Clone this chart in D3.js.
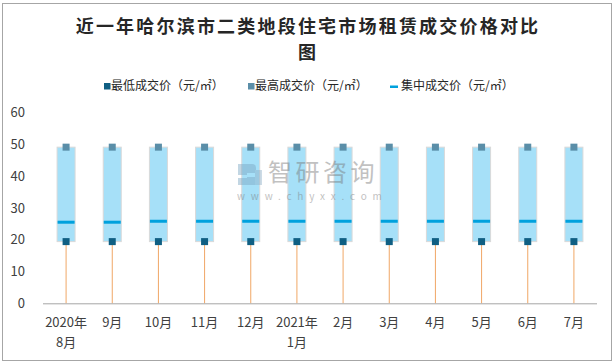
<!DOCTYPE html>
<html><head><meta charset="utf-8">
<script src="https://cdn.jsdelivr.net/npm/d3@7"></script>
<style>body{margin:0;background:#fff}svg{display:block}</style>
</head><body>
<svg id="c" width="615" height="364"></svg>
<script>
const categories = ["2020年\n8月","9月","10月","11月","12月","2021年\n1月","2月","3月","4月","5月","6月","7月"];
const lowValues  = [19.4,19.4,19.4,19.4,19.4,19.4,19.4,19.4,19.4,19.4,19.4,19.4];
const highValues = [49.1,49.1,49.1,49.1,49.1,49.1,49.1,49.1,49.1,49.1,49.1,49.1];
const midValues  = [25.5,25.5,25.8,25.8,25.8,25.8,25.8,25.8,25.8,25.8,25.8,25.8];
const yTicks = [0,10,20,30,40,50,60];
const seriesNames = ["最低成交价（元/㎡）","最高成交价（元/㎡）","集中成交价（元/㎡）"];
const titleLines = ["近一年哈尔滨市二类地段住宅市场租赁成交价格对比","图"];

const FONT = '"Microsoft YaHei","Noto Sans CJK SC","Noto Sans",sans-serif';
const svg = d3.select("#c");
svg.append("rect").attr("x",2.5).attr("y",3.5).attr("width",609).attr("height",357)
  .attr("fill","#fff").attr("stroke","#a6a6a6");

// title
svg.append("g").selectAll("text").data(titleLines).join("text")
  .attr("x",308).attr("y",(d,i)=>27+i*26).attr("dy","0.36em")
  .attr("text-anchor","middle").attr("font-family",'"Noto Sans CJK SC",serif')
  .attr("font-weight",700).attr("font-size",18).attr("letter-spacing",2.2)
  .attr("fill","#262626").text(d=>d);

const x = d3.scaleBand().domain(categories).range([43,597]).paddingInner(0.61).paddingOuter(0.305);
const y = d3.scaleLinear().domain([0,60]).range([303.3,112.5]);

// y axis
const ya = svg.append("g").attr("transform","translate(43,0)")
  .call(d3.axisLeft(y).tickValues(yTicks).tickSize(0).tickPadding(18));
ya.select(".domain").remove();
ya.selectAll("text").attr("font-family",FONT).attr("font-size",13).attr("fill","#404040");

const idx = categories.map((c,i)=>i);
const cx = i => x(categories[i]) + x.bandwidth()/2;

// drop lines
svg.append("g").selectAll("line").data(idx).join("line")
  .attr("x1",cx).attr("x2",cx).attr("y1",y(0)).attr("y2",i=>y(lowValues[i]))
  .attr("stroke","#f0a766").attr("stroke-width",1);

// floating bars
svg.append("g").selectAll("rect").data(idx).join("rect")
  .attr("x",i=>x(categories[i])).attr("width",x.bandwidth())
  .attr("y",i=>y(highValues[i])).attr("height",i=>y(lowValues[i])-y(highValues[i]))
  .attr("fill","#a6e0f8").attr("stroke","#d9d9d9").attr("stroke-width",1);

// median lines
svg.append("g").selectAll("rect").data(idx).join("rect")
  .attr("x",i=>x(categories[i])+0.5).attr("width",x.bandwidth()-1)
  .attr("y",i=>y(midValues[i])-1.5).attr("height",3).attr("fill","#00a1dd");

// markers
const ms = 7;
svg.append("g").selectAll("rect").data(idx).join("rect")
  .attr("x",i=>cx(i)-ms/2).attr("y",i=>y(lowValues[i])-ms/2).attr("width",ms).attr("height",ms)
  .attr("fill","#0f5f83");
svg.append("g").selectAll("rect").data(idx).join("rect")
  .attr("x",i=>cx(i)-ms/2).attr("y",i=>y(highValues[i])-ms/2).attr("width",ms).attr("height",ms)
  .attr("fill","#5a8ea8");

// x axis
const xa = svg.append("g").attr("transform",`translate(0,${y(0)})`)
  .call(d3.axisBottom(x).tickSize(0).tickPadding(0));
xa.select(".domain").attr("stroke","#a6a6a6").attr("d","M43,0.5H597");
xa.selectAll("text").each(function(d){
  const t = d3.select(this).text(null).attr("y",0).attr("dy",null)
    .attr("font-family",FONT).attr("font-size",13).attr("fill","#404040");
  d.split("\n").forEach((s,k)=>t.append("tspan").attr("x",0).attr("y",19+k*20.5).attr("dy","0.36em").text(s));
});

// legend
const lg = svg.append("g").attr("font-family",FONT).attr("font-size",12).attr("fill","#262626");
lg.append("rect").attr("x",104).attr("y",83).attr("width",6.5).attr("height",6.5).attr("fill","#0f5f83");
lg.append("text").attr("x",111).attr("y",86).attr("dy","0.36em").text(seriesNames[0]);
lg.append("rect").attr("x",248).attr("y",83).attr("width",6.5).attr("height",6.5).attr("fill","#5a8ea8");
lg.append("text").attr("x",255).attr("y",86).attr("dy","0.36em").text(seriesNames[1]);
lg.append("rect").attr("x",390).attr("y",85.5).attr("width",8).attr("height",2.5).attr("fill","#00a1dd");
lg.append("text").attr("x",401).attr("y",86).attr("dy","0.36em").text(seriesNames[2]);

// watermark
const wm = svg.append("g").attr("opacity",0.45);
wm.append("path").attr("d","M238,164h14a4,4 0 0 1 4,4v5h-9v4h9v8h-18v-7h9v-3h-9z").attr("fill","#7aa6c2");
wm.append("rect").attr("x",255).attr("y",170).attr("width",7).attr("height",15).attr("fill","#8fb0c8");
wm.append("text").attr("x",268).attr("y",172).attr("dy","0.36em").attr("font-family",FONT)
  .attr("font-size",24).attr("letter-spacing",3.5).attr("fill","#777").text("智研咨询");
wm.append("text").attr("x",237).attr("y",196).attr("dy","0.36em").attr("font-family",FONT)
  .attr("font-size",10).attr("letter-spacing",5.8).attr("fill","#777").text("www.chyxx.com");
</script>
</body></html>
